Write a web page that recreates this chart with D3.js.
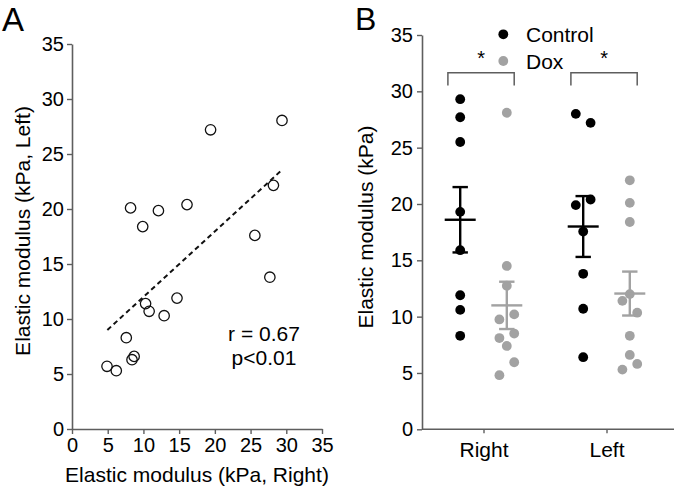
<!DOCTYPE html>
<html>
<head>
<meta charset="utf-8">
<script src="https://cdn.jsdelivr.net/npm/d3@7"></script>
<style>
  html, body { margin: 0; padding: 0; background: #fff; }
  svg { display: block; }
  text { font-family: "Liberation Sans", Arial, sans-serif; fill: #000; }
</style>
</head>
<body>
<svg id="chart" width="675" height="500"></svg>
<script>
// ---------- Panel A data ----------
const scatterRight = [8.2, 9.9, 12.1, 16.1, 19.4, 29.4, 28.2, 25.6, 27.7, 14.7, 10.3, 10.8, 12.9, 7.6, 8.7, 8.4, 4.9, 6.2];
const scatterLeft  = [20.1, 18.4, 19.85, 20.4, 27.2, 28.05, 22.15, 17.6, 13.8, 11.9, 11.4, 10.7, 10.3, 8.3, 6.6, 6.3, 5.7, 5.3];
const fitX = [4.95, 29.3];
const fitY = [9.0, 23.5];
const axisTicksA = [0, 5, 10, 15, 20, 25, 30, 35];
const statLabels = ["r = 0.67", "p<0.01"];

// ---------- Panel B data ----------
const sides = ["Right", "Left"];
const seriesNames = ["Control", "Dox"];
const controlRight = [29.3, 27.7, 25.5, 19.3, 15.9, 11.9, 10.6, 8.3];
const controlRightSlot = [0, 0, 0, 0, 0, 0, 0, 0];
const controlLeft = [28.0, 27.2, 20.4, 19.9, 17.55, 13.8, 10.7, 6.4];
const controlLeftSlot = [-1, 1, 1, -1, 0, 0, 0, 0];
const doxRight = [28.1, 14.5, 12.75, 10.2, 9.75, 8.5, 8.1, 7.4, 5.95, 4.8];
const doxRightSlot = [0, 0, 0, 1, -1, 1, -1, 0, 1, -1];
const doxLeft = [22.1, 20.1, 18.4, 12.0, 11.4, 10.35, 8.3, 6.6, 5.8, 5.3];
const doxLeftSlot = [0, 0, 0, 0, -1, 1, 0, 0, 1, -1];
const controlMean = [18.6, 18.0];
const controlSem = [2.9, 2.7];
const doxMean = [11.0, 12.05];
const doxSem = [2.1, 1.95];
const axisTicksB = [0, 5, 10, 15, 20, 25, 30, 35];
const sigMarks = ["*", "*"];

const svg = d3.select("#chart");
const axisColor = "#5e5e5e";
const grey = "#a2a2a2";

function styleAxis(g) {
  g.selectAll(".domain").attr("stroke", axisColor).attr("stroke-width", 1.6);
  g.selectAll(".tick line").attr("stroke", axisColor).attr("stroke-width", 1.4);
  g.selectAll(".tick text").attr("font-size", 20).attr("fill", "#000")
    .style("font-family", "'Liberation Sans', Arial, sans-serif");
}

// ================= Panel A =================
const xA = d3.scaleLinear().domain([0, 35]).range([72, 322]);
const yA = d3.scaleLinear().domain([0, 35]).range([429, 44]);

const gAx = svg.append("g").attr("transform", `translate(0,${yA(0)})`)
  .call(d3.axisBottom(xA).tickValues(axisTicksA).tickSize(5).tickPadding(4).tickSizeOuter(0));
styleAxis(gAx);
const gAy = svg.append("g").attr("transform", `translate(${xA(0)},0)`)
  .call(d3.axisLeft(yA).tickValues(axisTicksA).tickSize(5).tickPadding(3).tickSizeOuter(0));
styleAxis(gAy);

svg.append("line")
  .attr("x1", xA(fitX[0])).attr("y1", yA(fitY[0]))
  .attr("x2", xA(fitX[1])).attr("y2", yA(fitY[1]))
  .attr("stroke", "#111").attr("stroke-width", 2).attr("stroke-dasharray", "5,3.5");

svg.append("g").selectAll("circle")
  .data(scatterRight.map((v, i) => [v, scatterLeft[i]]))
  .join("circle")
  .attr("cx", d => xA(d[0])).attr("cy", d => yA(d[1]))
  .attr("r", 5.2).attr("fill", "none").attr("stroke", "#111").attr("stroke-width", 1.3);

svg.append("text").attr("x", 264).attr("y", 341).attr("text-anchor", "middle")
  .attr("font-size", 21).text(statLabels[0]);
svg.append("text").attr("x", 264).attr("y", 365).attr("text-anchor", "middle")
  .attr("font-size", 21).text(statLabels[1]);

svg.append("text").attr("x", 197).attr("y", 482).attr("text-anchor", "middle")
  .attr("font-size", 21).text("Elastic modulus (kPa, Right)");
svg.append("text").attr("transform", "translate(30,231) rotate(-90)")
  .attr("text-anchor", "middle").attr("font-size", 21).text("Elastic modulus (kPa, Left)");
svg.append("text").attr("x", 2).attr("y", 31).attr("font-size", 33).text("A");

// ================= Panel B =================
const yB = d3.scaleLinear().domain([0, 35]).range([429.3, 35]);
const xB = d3.scalePoint().domain(sides).range([422, 668]).padding(0.5);
const groupOffset = 23.3;
const slotStep = 7.4;

const gBx = svg.append("g").attr("transform", `translate(0,${yB(0)})`)
  .call(d3.axisBottom(xB).tickSize(4).tickPadding(9).tickSizeOuter(0));
styleAxis(gBx);
gBx.select(".domain").remove();
gBx.append("line").attr("x1", 422).attr("x2", 674).attr("y1", 0).attr("y2", 0)
  .attr("stroke", axisColor).attr("stroke-width", 1.6);
gBx.selectAll(".tick text").attr("font-size", 21);

const gBy = svg.append("g").attr("transform", `translate(422,0)`)
  .call(d3.axisLeft(yB).tickValues(axisTicksB).tickSize(5).tickPadding(4).tickSizeOuter(0));
styleAxis(gBy);

const groups = [
  { side: "Right", series: 0, vals: controlRight, slots: controlRightSlot },
  { side: "Right", series: 1, vals: doxRight, slots: doxRightSlot },
  { side: "Left", series: 0, vals: controlLeft, slots: controlLeftSlot },
  { side: "Left", series: 1, vals: doxLeft, slots: doxLeftSlot }
];
const seriesColor = ["#000", grey];
const groupX = (side, s) => xB(side) + (s === 0 ? -groupOffset : groupOffset);

groups.forEach(g => {
  svg.append("g").selectAll("circle")
    .data(g.vals.map((v, i) => ({ v, slot: g.slots[i] })))
    .join("circle")
    .attr("cx", d => groupX(g.side, g.series) + d.slot * slotStep)
    .attr("cy", d => yB(d.v))
    .attr("r", 4.9)
    .attr("fill", seriesColor[g.series]);
});

// mean +/- SEM
sides.forEach((side, i) => {
  [[controlMean, controlSem], [doxMean, doxSem]].forEach(([m, s], k) => {
    const cx = groupX(side, k);
    const col = seriesColor[k];
    const eg = svg.append("g").attr("stroke", col).attr("stroke-width", 2.4);
    eg.append("line").attr("x1", cx).attr("x2", cx)
      .attr("y1", yB(m[i] + s[i])).attr("y2", yB(m[i] - s[i]));
    eg.append("line").attr("x1", cx - 15.5).attr("x2", cx + 15.5)
      .attr("y1", yB(m[i])).attr("y2", yB(m[i]));
    eg.append("line").attr("x1", cx - 7.7).attr("x2", cx + 7.7)
      .attr("y1", yB(m[i] + s[i])).attr("y2", yB(m[i] + s[i]));
    eg.append("line").attr("x1", cx - 7.7).attr("x2", cx + 7.7)
      .attr("y1", yB(m[i] - s[i])).attr("y2", yB(m[i] - s[i]));
  });
});

// significance brackets
sides.forEach((side, i) => {
  const x1 = groupX(side, 0) - 12.3;
  const x2 = groupX(side, 1) + 7.4;
  svg.append("path")
    .attr("d", `M${x1},85.5 V72.7 H${x2} V85.5`)
    .attr("fill", "none").attr("stroke", axisColor).attr("stroke-width", 1.5);
  svg.append("text").attr("x", (x1 + x2) / 2).attr("y", 65)
    .attr("text-anchor", "middle").attr("font-size", 20).text(sigMarks[i]);
});

// legend
seriesNames.forEach((name, i) => {
  const y = 34.3 + i * 26.7;
  svg.append("circle").attr("cx", 503.3).attr("cy", y).attr("r", 4.9).attr("fill", seriesColor[i]);
  svg.append("text").attr("x", 526).attr("y", y + 8).attr("font-size", 21).text(name);
});

svg.append("text").attr("transform", "translate(373,227) rotate(-90)")
  .attr("text-anchor", "middle").attr("font-size", 21).text("Elastic modulus (kPa)");
svg.append("text").attr("x", 355).attr("y", 30).attr("font-size", 32).text("B");
</script>
</body>
</html>
